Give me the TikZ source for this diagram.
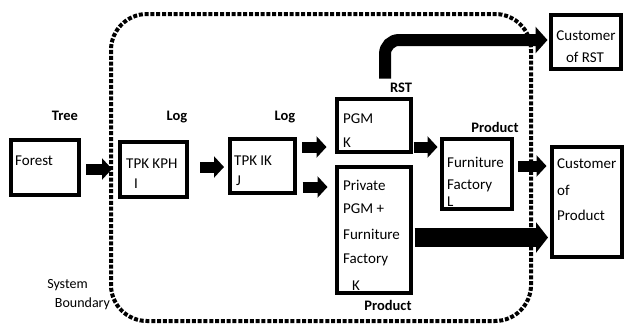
\documentclass[tikz,border=0pt]{standalone}
\usepackage{fontspec}
\setmainfont{Carlito}
\usetikzlibrary{arrows.meta,calc}
\begin{document}
\begin{tikzpicture}[x=1pt,y=-1pt,
  box/.style={draw,line width=4pt,inner sep=0pt,outer sep=0pt},
  txt/.style={anchor=base west,inner sep=0pt,font=\fontsize{15}{18}\selectfont},
  ctxt/.style={anchor=base,inner sep=0pt,font=\fontsize{15}{18}\selectfont},
  lbl/.style={anchor=base,inner sep=0pt,font=\fontsize{14.5}{17}\selectfont\bfseries},
  blk/.style={line width=11pt,-{Triangle[length=10pt,width=21pt]}},
  bigblk/.style={line width=19pt,-{Triangle[length=12pt,width=30pt]}},
  boundary/.style={line width=4pt,dash pattern=on 4pt off 1.8pt,rounded corners=36pt},
]
\useasboundingbox (0,0) rectangle (624,325);

% system boundary
\draw[boundary] (111,14) rectangle (531,321);

% boxes
\node[box,minimum width=68pt,minimum height=55pt] (forest) at (44.5,167) {};
\node[box,minimum width=67pt,minimum height=55pt] (kph) at (153,169) {};
\node[box,minimum width=65pt,minimum height=54pt] (ik) at (262,165.5) {};
\node[box,minimum width=74pt,minimum height=53pt] (pgm) at (373.5,125) {};
\node[box,minimum width=74pt,minimum height=126pt] (priv) at (373.5,229.5) {};
\node[box,minimum width=70pt,minimum height=70pt] (furn) at (476.5,173.5) {};
\node[box,minimum width=70pt,minimum height=54pt] (crst) at (585.5,41.5) {};
\node[box,minimum width=70pt,minimum height=110pt] (cprod) at (586.5,201.5) {};

% box texts
\node[txt] (tforest) at (15,165) {Forest};
\node[txt] (tkph1) at (126,168) {TPK KPH};
\node[txt] (tkph2) at (134,188) {I};
\node[txt] (tik1) at (234,165) {TPK IK};
\node[txt] (tik2) at (236,185) {J};
\node[txt] (tpgm1) at (343,123) {PGM};
\node[txt] (tpgm2) at (343,147) {K};
\node[txt] (tpriv1) at (343,190) {Private};
\node[txt] (tpriv2) at (343,213) {PGM +};
\node[txt] (tpriv3) at (343,239) {Furniture};
\node[txt] (tpriv4) at (343,263) {Factory};
\node[txt] (tpriv5) at (352,290) {K};
\node[txt] (tfurn1) at (447,167) {Furniture};
\node[txt] (tfurn2) at (447,189) {Factory};
\node[txt] (tfurn3) at (447,206) {L};
\node[ctxt] (tcrst1) at (586,40) {Customer};
\node[ctxt] (tcrst2) at (585,62) {of RST};
\node[txt] (tcprod1) at (557,168) {Customer};
\node[txt] (tcprod2) at (557,195) {of};
\node[txt] (tcprod3) at (557,220) {Product};

% flow labels
\node[lbl] (ltree) at (65,120) {Tree};
\node[lbl] (llog1) at (177,120) {Log};
\node[lbl] (llog2) at (285,120) {Log};
\node[lbl] (lrst) at (401,92) {RST};
\node[lbl] (lprod1) at (495,132) {Product};
\node[lbl] (lprod2) at (388,310) {Product};
\node[ctxt,font=\fontsize{14}{17}\selectfont] (lsys1) at (67.5,288) {System};
\node[ctxt,font=\fontsize{14}{17}\selectfont] (lsys2) at (82.5,307) {Boundary};

% arrows
\coordinate (s1) at ($(forest.east)+(7.5,2)$);
\draw[blk] (s1) -- ($(s1 -| kph.west)+(-7.5,0)$);
\coordinate (s2) at ($(kph.east)+(13.5,-2)$);
\draw[blk] (s2) -- ($(s2 -| ik.west)+(-5.5,0)$);
\coordinate (s3) at ($(ik.east)+(7.5,-18.5)$);
\draw[blk] (s3) -- ($(s3 -| pgm.west)+(-10,0)$);
\coordinate (s4) at ($(ik.east)+(8,21.5)$);
\draw[blk] (s4) -- ($(s4 -| priv.west)+(-9,0)$);
\coordinate (s5) at ($(pgm.east)+(3,22)$);
\draw[blk] (s5) -- ($(s5 -| furn.west)+(-4,0)$);
\coordinate (s6) at ($(furn.east)+(6.5,-7.5)$);
\draw[blk] (s6) -- ($(s6 -| cprod.west)+(-5,0)$);
\coordinate (s7) at ($(priv.east)+(4,8)$);
\draw[bigblk] (s7) -- ($(s7 -| cprod.west)+(-3.5,0)$);
\coordinate (s8) at ($(pgm.north)+(11.5,-20)$);
\draw[line width=12pt,rounded corners=14pt,-{Triangle[length=12pt,width=26pt]}]
  (s8) |- ($(crst.west)+(-3,-1.5)$);
\end{tikzpicture}
\end{document}
